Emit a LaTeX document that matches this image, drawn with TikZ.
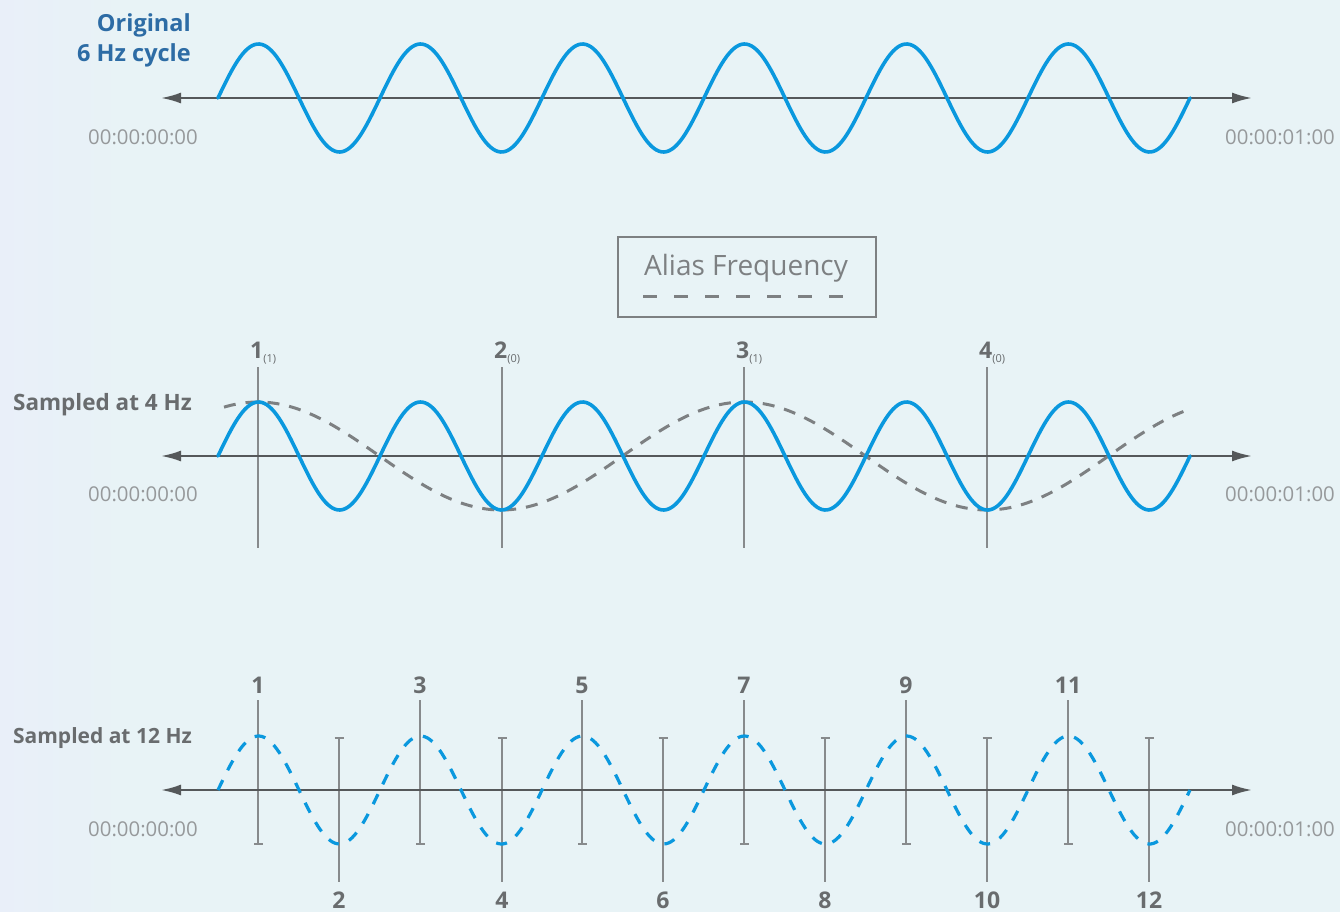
\documentclass[tikz,border=0pt]{standalone}
\usepackage{fontspec}
\setmainfont{Open Sans}
\usetikzlibrary{arrows.meta}
\definecolor{bg}{RGB}{232,243,246}
\definecolor{wave}{RGB}{10,152,222}
\definecolor{axisc}{RGB}{85,88,90}
\definecolor{titleblue}{RGB}{45,108,165}
\definecolor{labgray}{RGB}{105,108,110}
\definecolor{tcgray}{RGB}{150,153,155}
\definecolor{tickgray}{RGB}{135,138,140}
\definecolor{aliasgray}{RGB}{125,128,130}
\tikzset{
  axisline/.style={draw=axisc, line width=2.2pt, {Latex[length=20pt,width=11pt]}-{Latex[length=20pt,width=11pt]}},
  wavesolid/.style={draw=wave, line width=3.6pt, line cap=round, line join=round},
  wavedashed/.style={draw=wave, line width=3.2pt, dash pattern=on 11pt off 11pt},
  aliaswave/.style={draw=aliasgray, line width=3pt, dash pattern=on 12pt off 10pt},
  sampleline/.style={draw=tickgray, line width=1.6pt},
  titletext/.style={font=\fontsize{23.5}{26}\selectfont\bfseries, text=titleblue, anchor=east, inner sep=0pt},
  sidetext/.style={font=\fontsize{21}{24}\selectfont\bfseries, text=labgray, anchor=east, inner sep=0pt},
  tctext/.style={font=\fontsize{20.4}{24}\selectfont, text=tcgray, inner sep=0pt},
  numtext/.style={font=\fontsize{23}{26}\selectfont\bfseries, text=labgray, inner sep=0pt},
}
\begin{document}
\begin{tikzpicture}[x=1pt,y=-1pt]
\useasboundingbox (0,0) rectangle (1340,912);
\fill[bg] (0,0) rectangle (1340,912);
\shade[left color=bg!80!blue!30!white, right color=bg, opacity=0.5] (0,0) rectangle (120,912);

% ---------- top panel ----------
\node[titletext] (orig1) at (191,25) {Original};
\node[titletext] (orig2) at (191,55) {6 Hz cycle};
\coordinate (L1) at (161,98);
\coordinate (R1) at (1252,98);
\draw[axisline] (L1) -- (R1);
\draw[wavesolid, domain=218:1190, samples=400] plot (\x, {98-54*sin((\x-218)/162*360)});
\node[tctext] (tcL1) at (143,137) {00:00:00:00};
\node[tctext] (tcR1) at (1280,137) {00:00:01:00};

% ---------- legend ----------
\node[draw=aliasgray, line width=1.6pt, minimum width=258pt, minimum height=80pt] (legend) at (747,277) {};
\node[font=\fontsize{28}{32}\selectfont, text=aliasgray, inner sep=0pt] (legtxt) at (746,268) {Alias Frequency};
\coordinate (dashA) at (643,296);
\coordinate (dashB) at (847,296);
\draw[draw=aliasgray, line width=3pt, dash pattern=on 14pt off 17pt] (dashA) -- (dashB);

% ---------- middle panel ----------
\node[sidetext, font=\fontsize{22.5}{26}\selectfont\bfseries] (s4) at (192,405) {Sampled at 4 Hz};
\foreach \n/\xx/\sub in {1/258/(1), 2/502/(0), 3/744/(1), 4/987/(0)}{
  \coordinate (mt\n) at (\xx,367);
  \coordinate (mb\n) at (\xx,548);
  \draw[sampleline] (mt\n) -- (mb\n);
  \node[numtext, anchor=south west] (ml\n) at (\xx-8,364) {\n\textsubscript{\fontsize{11}{11}\selectfont\mdseries\sub}};
}
\coordinate (L2) at (161,456);
\coordinate (R2) at (1252,456);
\draw[axisline] (L2) -- (R2);
\draw[aliaswave, domain=224:1190, samples=300] plot (\x, {456-54*cos((\x-258)/486*360)});
\draw[wavesolid, domain=218:1190, samples=400] plot (\x, {456-54*sin((\x-218)/162*360)});
\node[tctext] (tcL2) at (143,494) {00:00:00:00};
\node[tctext] (tcR2) at (1280,494) {00:00:01:00};

% ---------- bottom panel ----------
\node[sidetext] (s12) at (192,738) {Sampled at 12 Hz};
\foreach \n/\xx in {1/258, 3/420, 5/582, 7/744, 9/906, 11/1068}{
  \coordinate (bt\n) at (\xx,700);
  \coordinate (bb\n) at (\xx,845);
  \draw[sampleline, -{Bar[width=9pt,line width=1.6pt]}] (bt\n) -- (bb\n);
  \node[numtext] (bl\n) at (\xx,685) {\n};
}
\foreach \n/\xx in {2/339, 4/502, 6/663, 8/825, 10/987, 12/1149}{
  \coordinate (bt\n) at (\xx,737);
  \coordinate (bb\n) at (\xx,882);
  \draw[sampleline, {Bar[width=9pt,line width=1.6pt]}-] (bt\n) -- (bb\n);
  \node[numtext] (bl\n) at (\xx,900) {\n};
}
\coordinate (L3) at (161,790);
\coordinate (R3) at (1252,790);
\draw[axisline] (L3) -- (R3);
\draw[wavedashed, domain=218:1190, samples=400] plot (\x, {790-54*sin((\x-218)/162*360)});
\node[tctext] (tcL3) at (143,829) {00:00:00:00};
\node[tctext] (tcR3) at (1280,829) {00:00:01:00};
\end{tikzpicture}
\end{document}
